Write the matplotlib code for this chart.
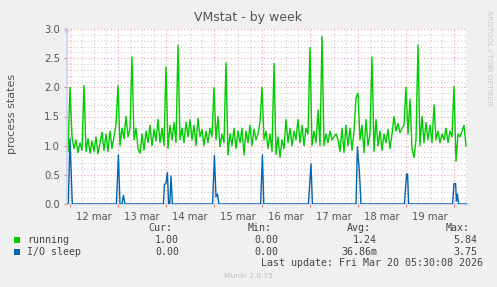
import matplotlib
matplotlib.use("Agg")
import matplotlib.pyplot as plt
import numpy as np
from matplotlib.patches import Rectangle

W, H = 497, 287

# hours since Mar 12 00:00, one sample per hour
hours = np.arange(-1, 199)
running = [
    0.90, 2.00, 1.15, 0.95, 1.10, 0.88, 1.05, 0.92, 2.03, 0.90,
    1.12, 0.87, 1.08, 0.90, 1.15, 0.86, 1.05, 1.23, 0.92, 1.20,
    0.90, 1.25, 0.95, 1.15, 1.36, 2.03, 1.00, 1.30, 1.12, 1.50,
    1.15, 1.30, 2.52, 1.10, 1.30, 0.95, 0.87, 1.20, 0.92, 1.25,
    1.05, 1.35, 1.00, 1.28, 1.08, 1.45, 1.05, 1.30, 1.00, 2.35,
    0.95, 1.35, 1.10, 1.40, 1.05, 2.72, 1.10, 1.30, 1.05, 1.40,
    1.15, 1.45, 1.10, 1.35, 1.00, 1.47, 1.15, 1.28, 1.00, 1.25,
    1.05, 1.30, 1.15, 2.00, 1.10, 1.50, 0.98, 1.20, 1.05, 2.42,
    0.84, 1.20, 1.00, 1.30, 0.95, 1.25, 1.05, 1.30, 0.84, 1.25,
    1.05, 1.35, 1.00, 1.28, 1.10, 1.20, 1.40, 2.00, 1.10, 1.25,
    0.95, 1.20, 0.90, 2.41, 0.85, 1.15, 0.80, 1.10, 0.95, 1.45,
    1.05, 1.30, 1.00, 1.25, 1.10, 1.45, 1.05, 1.35, 1.00, 1.30,
    1.20, 2.68, 1.00, 1.25, 1.05, 1.61, 1.00, 2.87, 1.00, 1.20,
    1.05, 1.25, 1.10, 1.15, 1.20, 1.10, 0.90, 1.30, 0.88, 1.35,
    1.00, 1.30, 0.92, 1.25, 1.82, 1.90, 1.10, 1.35, 0.88, 1.45,
    1.00, 1.20, 2.52, 0.90, 1.45, 1.00, 1.25, 0.92, 1.20, 1.05,
    1.28, 0.95, 1.20, 1.50, 1.25, 1.38, 1.22, 1.30, 1.35, 2.00,
    1.20, 1.80, 0.95, 0.80, 1.10, 2.73, 1.00, 1.50, 1.05, 1.40,
    1.10, 1.35, 1.05, 1.70, 1.10, 1.25, 1.05, 1.20, 1.10, 1.30,
    1.05, 1.25, 1.15, 2.02, 0.73, 1.20, 1.15, 1.25, 1.35, 1.00,
]

io_hours = [-1, -0.85, 0, 1.15,
            23.2, 24.2, 25, 26, 26.7, 27.5,
            46.7, 47.2, 48, 48.7, 49.3, 49.9, 50.5, 51.2,
            71.3, 72.2, 73, 73.7, 74.5,
            95.3, 96.2, 96.9,
            119.2, 120.5, 121.2,
            143, 143.7, 144.7, 145.5,
            167.2, 168.3, 168.8, 169.3,
            191.3, 192, 192.8, 193.2, 193.7, 194.3,
            198]
io_sleep = [0, 0, 1.12, 0,
            0, 0.84, 0, 0, 0.15, 0,
            0, 0.33, 0.36, 0.54, 0, 0, 0.48, 0,
            0, 0.83, 0.12, 0.17, 0,
            0, 0.84, 0,
            0, 0.69, 0,
            0, 0.98, 0.55, 0,
            0, 0.52, 0.50, 0,
            0, 0.35, 0.35, 0.05, 0.17, 0,
            0]

day_labels = ["12 mar", "13 mar", "14 mar", "15 mar", "16 mar", "17 mar", "18 mar", "19 mar"]
series_names = ["running", "I/O sleep"]
series_colors = ["#00CC00", "#0066B3"]
cur_vals = ["1.00", "0.00"]
min_vals = ["0.00", "0.00"]
avg_vals = ["1.24", "36.86m"]
max_vals = ["5.84", "3.75"]


def px(x, y):
    return x / W, 1 - y / H


fig = plt.figure(figsize=(W / 100, H / 100), dpi=100, facecolor="#F0F0F0")
x0, y0 = px(67, 204)
x1, y1 = px(467, 29)
ax = fig.add_axes([x0, y0, x1 - x0, y1 - y0])
ax.set_facecolor("white")
ax.set_xlim(-1.5, 198.5)
ax.set_ylim(0, 3.0)
for s in ax.spines.values():
    s.set_visible(False)

# grid: gray dotted minor, red dotted major
dots = (0, (1, 2))
for h in np.arange(-1, 199):
    if h % 6 == 0:
        c = "#F2A0A0" if h % 24 == 0 else "#CCCCCC"
        ax.axvline(h, color=c, lw=0.8, ls=dots, zorder=0)
for v in np.arange(0.1, 3.01, 0.1):
    major = abs(v * 2 - round(v * 2)) < 1e-6
    ax.axhline(v, color="#F2A0A0" if major else "#CCCCCC", lw=0.8, ls=dots, zorder=0)

ax.plot(hours, running, color=series_colors[0], lw=1.0, zorder=3)
ax.plot(io_hours, io_sleep, color=series_colors[1], lw=1.0, zorder=4)

ax.set_xticks(np.arange(12, 198, 24))
ax.set_xticklabels(day_labels)
ax.set_xticks(np.arange(0, 198, 24), minor=True)
ax.tick_params(axis="x", which="major", length=0, pad=6, labelsize=7.2, labelcolor="#555555")
ax.tick_params(axis="x", which="minor", length=2, color="#F08080", width=0.8)
ax.set_yticks(np.arange(0, 3.01, 0.5))
ax.set_yticklabels(["%.1f" % v for v in np.arange(0, 3.01, 0.5)])
ax.tick_params(axis="y", length=2, color="#F08080", width=0.8, pad=3, labelsize=7.2, labelcolor="#555555")

# axis lines with arrows
ax.annotate("", xy=(-1.5, 3.08), xytext=(-1.5, 0), xycoords="data",
            arrowprops=dict(arrowstyle="-|>", color="#C8C8F0", lw=1.0, mutation_scale=6),
            annotation_clip=False, zorder=5)
ax.annotate("", xy=(201.5, 0), xytext=(-1.5, 0), xycoords="data",
            arrowprops=dict(arrowstyle="-|>", color="#C8D0F8", lw=1.0, mutation_scale=6),
            annotation_clip=False, zorder=2)

fig.text(*px(248, 17), "VMstat - by week", ha="center", va="center", fontsize=9, color="#555555")
fig.text(*px(12, 114), "process states", ha="center", va="center", rotation=90, fontsize=8, color="#555555")
fig.text(*px(489, 58), "RRDTOOL / TOBI OETIKER", ha="center", va="center", rotation=270,
         fontsize=5.4, color="#C8C8C8")

mono = dict(family="DejaVu Sans Mono", fontsize=7.2, color="#444444", va="center")
for label, xr in zip(["Cur:", "Min:", "Avg:", "Max:"], [172, 272, 371, 470]):
    fig.text(*px(xr, 228), label, ha="right", **mono)

rows_y = [240, 252]
for i in range(2):
    y = rows_y[i]
    fig.patches.append(Rectangle(px(14, y + 3), 6 / W, 6 / H, transform=fig.transFigure,
                                 facecolor=series_colors[i], edgecolor="none"))
    fig.text(*px(27, y), series_names[i], ha="left", **mono)
    fig.text(*px(179, y), cur_vals[i], ha="right", **mono)
    fig.text(*px(278, y), min_vals[i], ha="right", **mono)
    fig.text(*px(377, y), avg_vals[i], ha="right", **mono)
    fig.text(*px(477, y), max_vals[i], ha="right", **mono)

fig.text(*px(483, 263.5), "Last update: Fri Mar 20 05:30:08 2026", ha="right", **mono)
fig.text(*px(248, 276), "Munin 2.0.75", ha="center", va="center", fontsize=5.4, color="#BBBBBB")

fig.savefig("out.png", dpi=100, facecolor=fig.get_facecolor())
